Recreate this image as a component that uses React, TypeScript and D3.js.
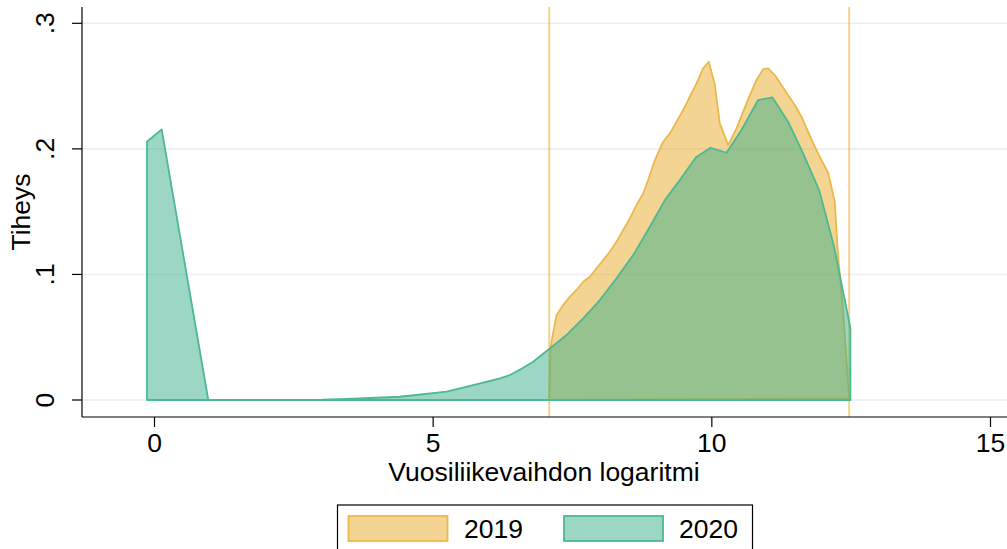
import React from "react";
import * as d3 from "d3";

const xTicks = [0, 5, 10, 15];
const yTicks = [0, 0.1, 0.2, 0.3];
const yTickLabels = ["0", ".1", ".2", ".3"];
const xLines = [7.082, 12.463];
const seriesNames = ["2019", "2020"];

const x2019 = [7.082, 7.106, 7.214, 7.333, 7.453, 7.572, 7.692, 7.811, 7.931, 8.051, 8.17, 8.29, 8.41, 8.529, 8.649, 8.768, 8.858, 8.978, 9.127, 9.247, 9.366, 9.486, 9.605, 9.725, 9.844, 9.946, 10.054, 10.143, 10.293, 10.443, 10.562, 10.682, 10.801, 10.921, 11.01, 11.13, 11.249, 11.369, 11.489, 11.608, 11.728, 11.847, 11.967, 12.087, 12.206, 12.266, 12.356, 12.463];
const y2019 = [0, 0.0425, 0.0677, 0.0756, 0.0823, 0.0876, 0.0942, 0.0982, 0.1048, 0.1115, 0.1181, 0.1261, 0.1354, 0.1446, 0.1553, 0.1645, 0.1752, 0.1911, 0.2057, 0.2123, 0.2216, 0.2309, 0.2415, 0.2521, 0.2641, 0.2694, 0.2508, 0.2203, 0.203, 0.2163, 0.2296, 0.2428, 0.2548, 0.2635, 0.2641, 0.2588, 0.2508, 0.2428, 0.2349, 0.2256, 0.2136, 0.2017, 0.1911, 0.181, 0.1579, 0.1141, 0.0717, 0.0013];

const x2020 = [-0.135, -0.135, 0.129, 0.965, 2.0, 3.0, 3.447, 4.404, 5.241, 5.898, 6.197, 6.377, 6.6, 6.795, 6.974, 7.154, 7.393, 7.692, 7.991, 8.29, 8.589, 8.888, 9.157, 9.426, 9.713, 9.976, 10.263, 10.532, 10.831, 11.088, 11.369, 11.638, 11.925, 12.194, 12.487, 12.487];
const y2020 = [0, 0.2057, 0.2155, 0, 0, 0.0002, 0.0008, 0.0026, 0.0066, 0.0138, 0.0173, 0.0199, 0.0252, 0.0305, 0.0368, 0.0432, 0.0518, 0.065, 0.0796, 0.0969, 0.1154, 0.138, 0.1592, 0.1752, 0.1932, 0.2009, 0.1969, 0.215, 0.2389, 0.241, 0.2216, 0.1964, 0.1672, 0.1221, 0.0571, 0];

const W = 1007;
const H = 549;
const FONT = "Arial, 'Liberation Sans', Helvetica, sans-serif";
const FS = 26.5;

export default function App() {
  const x = d3.scaleLinear().domain([0, 15]).range([154.5, 990.5]);
  const y = d3.scaleLinear().domain([0, 0.3]).range([400, 23.3]);
  const axisLeft = 82;
  const axisBottom = 417;
  const plotTop = 7;

  const line = d3
    .line<[number, number]>()
    .x((d) => x(d[0]))
    .y((d) => y(d[1]));

  const pts2019: [number, number][] = x2019.map((v, i) => [v, y2019[i]]);
  const pts2020: [number, number][] = x2020.map((v, i) => [v, y2020[i]]);
  const path2019 = line(pts2019) + "Z";
  const path2020 = line(pts2020) + "Z";

  const fill2019 = "rgba(232,170,40,0.5)";
  const stroke2019 = "#ebb84c";
  const fill2020 = "rgba(56,176,138,0.5)";
  const stroke2020 = "#4cb894";
  const fills = [fill2019, fill2020];
  const strokes = [stroke2019, stroke2020];

  return (
    <svg
      width={W}
      height={H}
      style={{ position: "fixed", left: 0, top: 0, background: "#fff" }}
      fontFamily={FONT}
    >
      <rect x={0} y={0} width={W} height={H} fill="#fff" />
      {yTicks.map((t) => (
        <line key={"g" + t} x1={axisLeft} x2={W} y1={y(t)} y2={y(t)} stroke="#e9f0f2" strokeWidth={1.6} />
      ))}
      {xLines.map((v) => (
        <line key={"xl" + v} x1={x(v)} x2={x(v)} y1={plotTop} y2={axisBottom} stroke="rgba(235,175,50,0.55)" strokeWidth={2} />
      ))}
      <path d={path2019} fill={fill2019} stroke={stroke2019} strokeWidth={1.8} strokeLinejoin="round" />
      <path d={path2020} fill={fill2020} stroke={stroke2020} strokeWidth={1.8} strokeLinejoin="round" />

      <line x1={axisLeft} x2={axisLeft} y1={plotTop} y2={axisBottom} stroke="#000" strokeWidth={1.2} />
      <line x1={axisLeft} x2={W} y1={axisBottom} y2={axisBottom} stroke="#000" strokeWidth={1.2} />
      {yTicks.map((t, i) => (
        <g key={"yt" + t}>
          <line x1={axisLeft - 10} x2={axisLeft} y1={y(t)} y2={y(t)} stroke="#000" strokeWidth={1.2} />
          <text
            transform={`translate(${54},${y(t)}) rotate(-90)`}
            textAnchor="middle"
            fontSize={FS}
            fill="#000"
          >
            {yTickLabels[i]}
          </text>
        </g>
      ))}
      {xTicks.map((t) => (
        <g key={"xt" + t}>
          <line x1={x(t)} x2={x(t)} y1={axisBottom} y2={axisBottom + 10} stroke="#000" strokeWidth={1.2} />
          <text x={x(t)} y={452} textAnchor="middle" fontSize={FS} fill="#000">
            {t}
          </text>
        </g>
      ))}
      <text x={544} y={481} textAnchor="middle" fontSize={FS} fill="#000">
        Vuosiliikevaihdon logaritmi
      </text>
      <text transform={`translate(${30},${212}) rotate(-90)`} textAnchor="middle" fontSize={FS} fill="#000">
        Tiheys
      </text>

      <rect x={337.5} y={505} width={415} height={60} fill="#fff" stroke="#000" strokeWidth={1.2} />
      {seriesNames.map((s, i) => (
        <g key={s}>
          <rect x={348.5 + i * 215.5} y={516} width={99} height={25} fill={fills[i]} stroke={strokes[i]} strokeWidth={1.8} />
          <text x={464 + i * 215} y={538} fontSize={FS} fill="#000">
            {s}
          </text>
        </g>
      ))}
    </svg>
  );
}
